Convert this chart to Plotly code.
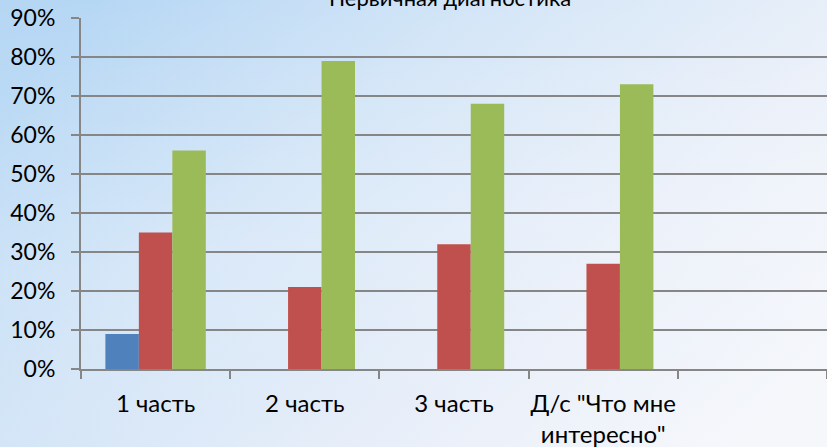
import base64
import plotly.graph_objects as go

categories = ["1 часть", "2 часть", "3 часть", "Д/с \"Что мне<br>интересно\"", " "]
series_names = ["Ряд 1", "Ряд 2", "Ряд 3"]
series_1 = [0.09, 0, 0, 0, None]
series_2 = [0.35, 0.21, 0.32, 0.27, None]
series_3 = [0.56, 0.79, 0.68, 0.73, None]
colors = ["#4F81BD", "#C0504D", "#9BBB59"]
title_text = "Первичная диагностика"

W, H = 827, 447
L, R, T, B = 81, 0, 18, 78
pw, ph = W - L - R, H - T - B

svg = f'''<svg xmlns="http://www.w3.org/2000/svg" width="{W}" height="{H}" viewBox="0 0 {W} {H}" preserveAspectRatio="none">
<defs>
<linearGradient id="g" x1="0" y1="0.2" x2="1" y2="0.8">
<stop offset="0" stop-color="#b6d7f4"/>
<stop offset="0.35" stop-color="#d3e5f7"/>
<stop offset="0.7" stop-color="#e9eff9"/>
<stop offset="1" stop-color="#f5f7fb"/>
</linearGradient>
<linearGradient id="h" x1="0" y1="0" x2="0.2" y2="1">
<stop offset="0" stop-color="#ffffff" stop-opacity="0"/>
<stop offset="0.6" stop-color="#ffffff" stop-opacity="0.15"/>
<stop offset="1" stop-color="#ffffff" stop-opacity="0"/>
</linearGradient>
</defs>
<rect width="{W}" height="{H}" fill="url(#g)"/>
<rect width="{W}" height="{H}" fill="url(#h)"/>
</svg>'''
bg_src = "data:image/svg+xml;base64," + base64.b64encode(svg.encode()).decode()

font_family = "Lato, 'Open Sans', sans-serif"

fig = go.Figure()
for name, vals, col in zip(series_names, [series_1, series_2, series_3], colors):
    fig.add_trace(go.Bar(x=categories, y=vals, name=name, hoverinfo="skip",
                         marker=dict(color=col, line=dict(width=0))))

fig.update_layout(
    width=W, height=H,
    margin=dict(l=L, r=R, t=T, b=B, pad=0, autoexpand=False),
    barmode="group", bargap=0.327, bargroupgap=0,
    showlegend=False,
    paper_bgcolor="white",
    plot_bgcolor="rgba(0,0,0,0)",
    font=dict(family=font_family, color="#000000", size=23),
    images=[dict(source=bg_src, xref="paper", yref="paper",
                 x=-L / pw, y=1 + T / ph, sizex=W / pw, sizey=H / ph,
                 xanchor="left", yanchor="top", sizing="stretch", layer="below")],
    annotations=[dict(text=title_text, xref="paper", yref="paper",
                      x=(450 - L) / pw, y=(ph + T - 13) / ph,
                      xanchor="center", yanchor="bottom", showarrow=False,
                      font=dict(family=font_family, size=22, color="#000000"))],
)

fig.update_xaxes(
    type="category", categoryorder="array", categoryarray=categories,
    range=[-0.5, len(categories) - 0.5], automargin=False, tickangle=0,
    showline=True, linecolor="#868686", linewidth=2,
    ticks="outside", tickson="boundaries", ticklen=8, tickwidth=1.5, tickcolor="#868686",
    showgrid=False, ticklabelstandoff=12,
    tickfont=dict(family=font_family, size=24, color="#000000"),
)
fig.update_yaxes(
    range=[0, 0.9], dtick=0.1, tick0=0, tickformat=".0%", automargin=False,
    showline=True, linecolor="#868686", linewidth=2,
    ticks="outside", ticklen=8, tickwidth=2, tickcolor="#868686",
    showgrid=True, gridcolor="#868686", gridwidth=2,
    zeroline=False, ticklabelstandoff=11,
    tickfont=dict(family=font_family, size=23, color="#000000"),
)

fig.write_html("out.html", config={"displayModeBar": False},
               post_script="document.body.style.margin='0';document.body.style.overflow='hidden';")
